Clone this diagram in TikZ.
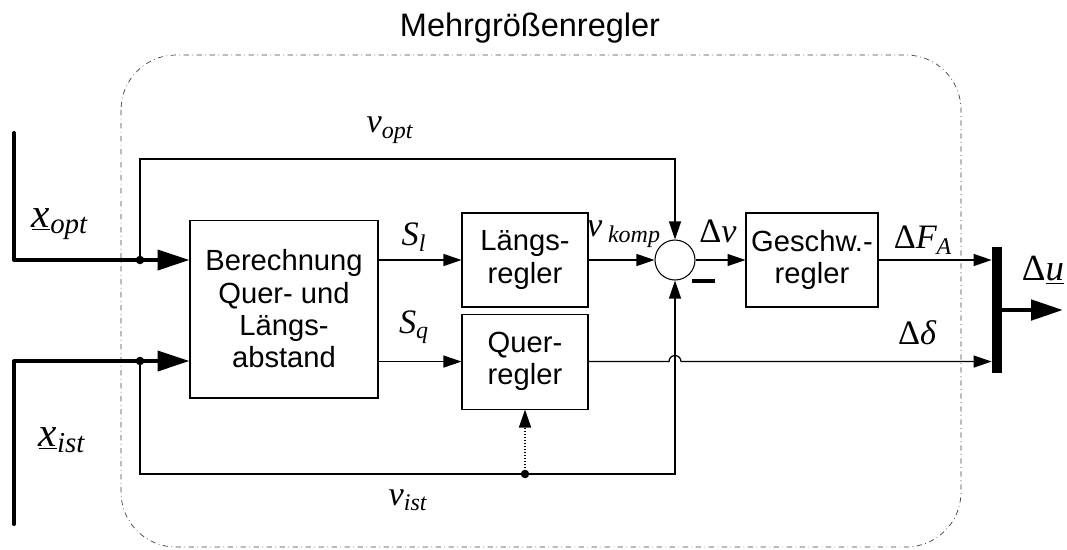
\documentclass[tikz,border=0pt]{standalone}
\usepackage{fontspec}
\setmainfont{Liberation Sans}
\newfontfamily\tms{Liberation Serif}
\usetikzlibrary{arrows.meta,positioning}

\newcommand\mvar[2]{#1\textsubscript{#2}}

\begin{document}
\begin{tikzpicture}[
    x=0.02cm, y=-0.02cm,
    font=\fontsize{16.6}{18.4}\selectfont,
    block/.style={draw, line width=0.6pt, align=center, inner sep=2pt},
    arrow/.style={-{Triangle[length=0.36cm, width=0.24cm]}, line width=0.7pt},
    bigarrow/.style={-{Triangle[length=0.64cm, width=0.4cm]}, line width=2.3pt, line join=round, line cap=round},
    junction/.style={circle, fill, inner sep=0pt, minimum size=0.17cm},
    boundary/.style={draw=black!75, line width=0.4pt, dash dot, rounded corners=1.1cm},
    lbl/.style={inner sep=1pt, font=\fontsize{19.5}{21}\selectfont\tms\itshape}
  ]
    \useasboundingbox (0,0) rectangle (1067,549);
    \draw[boundary] (121,55) rectangle (961,547);
    \node[font=\fontsize{18.5}{20}\selectfont] (title) at (530,28) {Mehrgrößenregler};

    % blocks
    \node[block, minimum width=3.76cm, minimum height=3.56cm] (ber) at (284,309) {Berechnung\\Quer- und\\Längs-\\abstand};
    \node[block, minimum width=2.52cm, minimum height=1.88cm] (laengs) at (525,260) {Längs-\\regler};
    \node[block, minimum width=2.52cm, minimum height=1.9cm, below=0.12cm of laengs] (quer) {Quer-\\regler};
    \node[draw, circle, line width=0.6pt, minimum size=0.8cm, inner sep=0pt] (sum) at (675,260) {};
    \node[block, minimum width=2.64cm, minimum height=1.88cm] (geschw) at (812,260) {Geschw.-\\regler};
    \node[fill, inner sep=0pt, minimum width=0.2cm, minimum height=2.52cm] (bar) at (997,310) {};

    % points
    \coordinate (xo) at (14,133);
    \coordinate (xi) at (14,524);
    \node[junction] (jo) at (140,260) {};
    \node[junction] (ji) at (140,361) {};
    \coordinate (vopt) at (140,159);
    \coordinate (vist) at (140,474);
    \node[junction] (fb) at (525,474) {};
    \coordinate (du) at (1063,310);

    % connectors
    \draw[bigarrow] (xo) |- (jo.center) -- (ber.west |- jo);
    \draw[bigarrow] (xi) |- (ji.center) -- (ber.west |- ji);
    \draw[arrow] (jo.center) -- (vopt) -| (sum.north);
    \draw[arrow] (ji.center) -- (vist) -| (sum.south);
    \draw[arrow, densely dotted, line width=0.9pt] (fb.center) -- (quer.south);
    \draw[arrow] (ber.east |- laengs) -- (laengs);
    \draw[arrow] (ber.east |- quer) -- (quer);
    \draw[arrow] (laengs) -- (sum);
    \draw[arrow] (sum) -- (geschw);
    \draw[arrow] (geschw) -- (bar.west |- geschw);
    \draw[arrow] (quer.east) -- ([xshift=-0.12cm]sum.south |- quer.east) arc[start angle=180, end angle=0, radius=0.12cm] -- (bar.west |- quer.east);
    \draw[bigarrow, line width=2.8pt, line cap=butt] (bar.east) -- (du);
    \draw[line width=2.4pt] (692,281) -- (715,281);

    % labels
    \node[lbl, font=\fontsize{23.5}{25}\selectfont\tms\itshape] (lxopt) at (60,224) {\mvar{\underline{x}}{opt}};
    \node[lbl, font=\fontsize{23.5}{25}\selectfont\tms\itshape] (lxist) at (62,440) {\mvar{\underline{x}}{ist}};
    \node[lbl] (lvopt) at (390,130) {\mvar{v}{opt}};
    \node[lbl] (lvist) at (408,500) {\mvar{v}{ist}};
    \node[lbl] (lsl) at (414,237) {\mvar{S}{l}};
    \node[lbl] (lsq) at (414,327) {\mvar{S}{q}};
    \node[lbl] (lvkomp) at (624,234) {\mvar{v\,}{komp}};
    \node[lbl] (ldv) at (718,231) {\textup{Δ}v};
    \node[lbl] (ldfa) at (923,240) {\textup{Δ}\mvar{F}{A}};
    \node[lbl] (lddelta) at (917,333) {\textup{Δ}δ};
    \node[lbl, font=\fontsize{21}{23}\selectfont\tms\itshape] (ldu) at (1043,270) {\textup{Δ}\underline{u}};
  \end{tikzpicture}
\end{document}
